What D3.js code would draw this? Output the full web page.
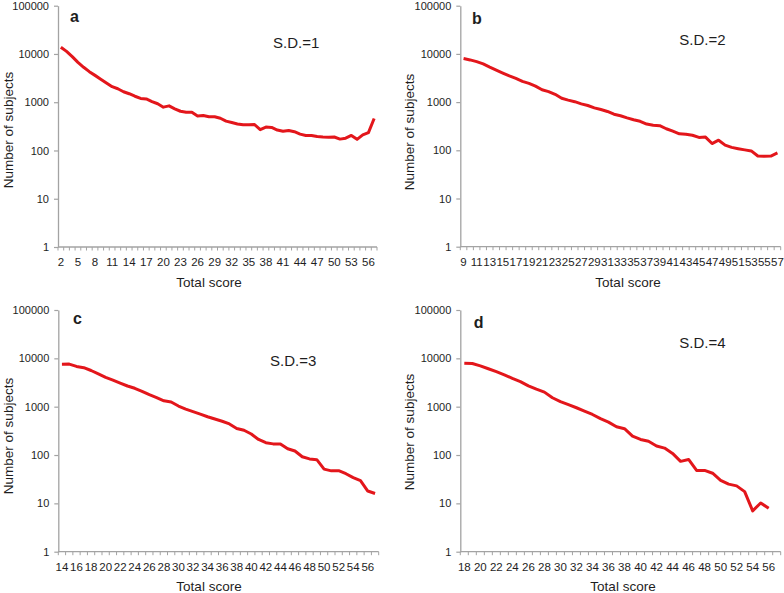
<!DOCTYPE html>
<html><head><meta charset="utf-8">
<script src="https://cdn.jsdelivr.net/npm/d3@7"></script>
<style>
body{margin:0;background:#fff}
text{font-family:"Liberation Sans",Arial,sans-serif;fill:#1e1e1e}
</style>
</head><body>
<svg id="chart" width="784" height="593"></svg>
<script>
// ---- Data ----
const catsA = [2,3,4,5,6,7,8,9,10,11,12,13,14,15,16,17,18,19,20,21,22,23,24,25,26,27,28,29,30,31,32,33,34,35,36,37,38,39,40,41,42,43,44,45,46,47,48,49,50,51,52,53,54,55,56,57];
const valsA = [13800,11300,8800,6700,5300,4300,3600,3000,2500,2100,1900,1650,1500,1330,1200,1170,1030,930,790,840,730,650,620,620,520,530,500,500,465,405,380,355,340,340,345,270,305,300,265,250,260,245,218,205,205,195,190,188,190,172,180,205,170,210,235,460];
const ticksA = [2,5,8,11,14,17,20,23,26,29,32,35,38,41,44,47,50,53,56];

const catsB = [9,10,11,12,13,14,15,16,17,18,19,20,21,22,23,24,25,26,27,28,29,30,31,32,33,34,35,36,37,38,39,40,41,42,43,44,45,46,47,48,49,50,51,52,53,54,55,56,57];
const valsB = [8000,7500,6900,6200,5300,4600,4000,3500,3100,2700,2450,2150,1800,1650,1450,1200,1100,1020,920,850,760,700,640,560,520,470,430,400,350,330,325,280,250,220,215,205,185,188,138,162,128,115,108,102,97,76,75,76,88];
const ticksB = [9,11,13,15,17,19,21,23,25,27,29,31,33,35,37,39,41,43,45,47,49,51,53,55,57];

const catsC = [14,15,16,17,18,19,20,21,22,23,24,25,26,27,28,29,30,31,32,33,34,35,36,37,38,39,40,41,42,43,44,45,46,47,48,49,50,51,52,53,54,55,56,57];
const valsC = [7550,7600,6800,6400,5600,4750,4050,3550,3080,2680,2400,2080,1770,1540,1320,1250,1030,890,790,700,620,555,500,440,355,325,272,210,180,170,170,135,121,92,83,80,51,47,47.5,41,34,29.5,18,16];
const ticksC = [14,16,18,20,22,24,26,28,30,32,34,36,38,40,42,44,46,48,50,52,54,56];

const catsD = [18,19,20,21,22,23,24,25,26,27,28,29,30,31,32,33,34,35,36,37,38,39,40,41,42,43,44,45,46,47,48,49,50,51,52,53,54,55,56,57];
const valsD = [7900,7800,7000,6100,5300,4550,3850,3300,2700,2300,2000,1530,1270,1100,950,810,690,565,480,385,350,245,210,192,154,139,108,74,81,48,48,42,30,25,23,17.5,7,10.2,7.9,null];
const ticksD = [18,20,22,24,26,28,30,32,34,36,38,40,42,44,46,48,50,52,54,56];

const yTickVals = [1,10,100,1000,10000,100000];
const letters = ["a","b","c","d"];
const sdLabels = ["S.D.=1","S.D.=2","S.D.=3","S.D.=4"];
const xTitle = "Total score";
const yTitle = "Number of subjects";

// ---- Layout ----
const panels = [
  {cats:catsA, vals:valsA, ticks:ticksA, x0:58,   x1:377,   yTop:5.7, yBot:247,
   letterPos:[70,22], sdPos:[273,48.3], xtPos:[209,287], ytPos:[13,130]},
  {cats:catsB, vals:valsB, ticks:ticksB, x0:460.3, x1:780.7, yTop:5.7, yBot:246.7,
   letterPos:[472,24], sdPos:[679.3,45], xtPos:[628,287], ytPos:[414,132]},
  {cats:catsC, vals:valsC, ticks:ticksC, x0:58.3, x1:378.7, yTop:310, yBot:551.7,
   letterPos:[73,324], sdPos:[270,366], xtPos:[209,591], ytPos:[13,436]},
  {cats:catsD, vals:valsD, ticks:ticksD, x0:460.3, x1:780.7, yTop:310, yBot:551.7,
   letterPos:[473.7,327.7], sdPos:[679.3,348.3], xtPos:[623,591], ytPos:[414,432]}
];

const axisColor = "#a3a3a3";
const lineColor = "#e3161b";
const svg = d3.select("#chart");

panels.forEach((p, i) => {
  const g = svg.append("g");
  const x = d3.scaleBand().domain(p.cats).range([p.x0, p.x1]).paddingInner(0).paddingOuter(0);
  const y = d3.scaleLog().domain([1, 100000]).range([p.yBot, p.yTop]);

  // Y axis
  const ya = g.append("g").attr("transform", `translate(${p.x0},0)`)
    .call(d3.axisLeft(y).tickValues(yTickVals).tickFormat(d3.format("d")).tickSize(4).tickSizeOuter(0).tickPadding(5));
  ya.select(".domain").attr("stroke", axisColor).attr("stroke-width", 1.3);
  ya.selectAll(".tick line").attr("stroke", axisColor).attr("stroke-width", 1.2);
  ya.selectAll(".tick text").style("font-size", "11px").attr("fill", "#1e1e1e");

  // X axis: domain + minor ticks at band boundaries
  g.append("line").attr("x1", p.x0).attr("x2", p.x1).attr("y1", p.yBot).attr("y2", p.yBot)
    .attr("stroke", axisColor).attr("stroke-width", 1.3);
  const edges = p.cats.map(c => x(c)).concat([p.x1]);
  g.selectAll(".mtick").data(edges).enter().append("line")
    .attr("x1", d => d).attr("x2", d => d).attr("y1", p.yBot).attr("y2", p.yBot + 3.5)
    .attr("stroke", axisColor).attr("stroke-width", 1);

  const xa = g.append("g").attr("transform", `translate(0,${p.yBot})`)
    .call(d3.axisBottom(x).tickValues(p.ticks).tickSize(0).tickPadding(11));
  xa.select(".domain").remove();
  xa.selectAll(".tick text").style("font-size", "11.5px").attr("fill", "#1e1e1e");

  // Line
  const line = d3.line()
    .defined(d => d.v != null)
    .x(d => x(d.c) + x.bandwidth() / 2)
    .y(d => y(d.v));
  const data = p.cats.map((c, k) => ({c: c, v: p.vals[k]}));
  g.append("path").datum(data).attr("d", line)
    .attr("fill", "none").attr("stroke", lineColor).attr("stroke-width", 3)
    .attr("stroke-linejoin", "round").attr("stroke-linecap", "butt");

  // Texts
  g.append("text").attr("x", p.letterPos[0]).attr("y", p.letterPos[1])
    .style("font-size", "16px").style("font-weight", "bold").text(letters[i]);
  g.append("text").attr("x", p.sdPos[0]).attr("y", p.sdPos[1])
    .style("font-size", "15px").text(sdLabels[i]);
  g.append("text").attr("x", p.xtPos[0]).attr("y", p.xtPos[1]).attr("text-anchor", "middle")
    .style("font-size", "13.5px").text(xTitle);
  g.append("text").attr("transform", `translate(${p.ytPos[0]},${p.ytPos[1]}) rotate(-90)`)
    .attr("text-anchor", "middle").style("font-size", "13.5px").text(yTitle);
});
</script>
</body></html>
